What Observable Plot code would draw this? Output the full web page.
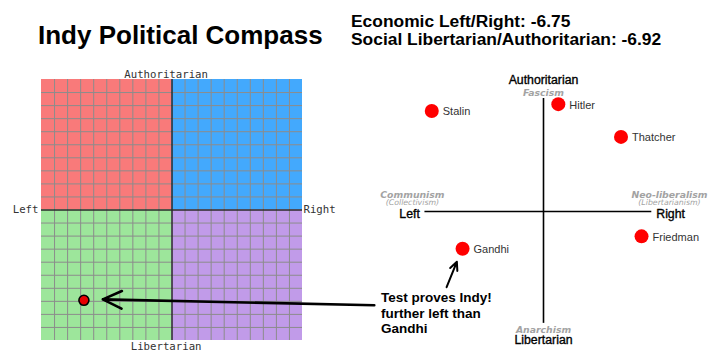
<!DOCTYPE html>
<html><head><meta charset="utf-8">
<script src="https://cdn.jsdelivr.net/npm/d3@7"></script>
<script src="https://cdn.jsdelivr.net/npm/@observablehq/plot@0.6"></script>
<style>
body{margin:0;background:#fff;}
#wrap{position:relative;width:720px;height:356px;overflow:hidden;font-family:"Liberation Sans",Arial,sans-serif;background:#fff;}
#wrap svg{position:absolute;left:0;top:0;}
.t{position:absolute;white-space:nowrap;font-weight:bold;color:#000;}
</style></head><body>
<div id="wrap">
 <div class="t" id="title" style="left:38px;top:21.5px;font-size:26px;line-height:26px"></div>
 <div class="t" id="scores" style="left:351px;top:11.9px;font-size:17.4px;line-height:18.5px"></div>
 <div class="t" id="note" style="left:381px;top:290px;font-size:13.5px;line-height:15.5px"></div>
</div>
<script>
// ---- data ----
const chartTitle = "Indy Political Compass";
const scoreLabels = ["Economic Left/Right", "Social Libertarian/Authoritarian"];
const indyScores = [-6.75, -6.92];           // [economic, social]
const quadrantNames = ["Authoritarian Left", "Authoritarian Right", "Libertarian Left", "Libertarian Right"];
const quadrantEconomic = [[-10, 0], [0, 10], [-10, 0], [0, 10]];
const quadrantSocial = [[0, 10], [0, 10], [-10, 0], [-10, 0]];
const compassAxisLabels = ["Authoritarian", "Libertarian", "Left", "Right"];
const figureNames = ["Stalin", "Hitler", "Thatcher", "Friedman", "Gandhi"];
const figureEconomic = [-9.8, 1.3, 6.8, 8.6, -7.1];
const figureSocial = [8.9, 9.5, 6.6, -2.2, -3.3];
const ideologyNames = ["Fascism", "Anarchism", "Communism", "(Collectivism)", "Neo-liberalism", "(Libertarianism)"];
const noteLines = ["Test proves Indy!", "further left than", "Gandhi"];
// annotation arrows (tail -> head), in each compass's own units
const indyPointer = {x1: 15.5, y1: -7.3, x2: -5.3, y2: -6.85};
const gandhiPointer = {x1: -8.5, y1: -6.7, x2: -7.6, y2: -4.45};

// ---- styles ----
const quadrantColor = {
  "Authoritarian Left": "#f97a7a",
  "Authoritarian Right": "#43a9fd",
  "Libertarian Left": "#9de69b",
  "Libertarian Right": "#c19be9"
};

// ---- header text ----
document.getElementById("title").textContent = chartTitle;
document.getElementById("scores").innerHTML =
  scoreLabels.map((l, i) => `${l}: ${indyScores[i].toFixed(2)}`).join("<br>");
document.getElementById("note").innerHTML = noteLines.join("<br>");

// ---- left compass ----
const quads = quadrantNames.map((name, i) => ({
  name, x1: quadrantEconomic[i][0], x2: quadrantEconomic[i][1],
  y1: quadrantSocial[i][0], y2: quadrantSocial[i][1]
}));
const gridTicks = d3.range(-9, 10).filter(v => v !== 0);
const indy = [{x: indyScores[0], y: indyScores[1]}];
const monoFont = "DejaVu Sans Mono";
const leftChart = Plot.plot({
  width: 720, height: 356,
  marginLeft: 41, marginRight: 418, marginTop: 79, marginBottom: 16,
  x: {domain: [-10, 10], axis: null},
  y: {domain: [-10, 10], axis: null},
  style: {background: "none", overflow: "visible"},
  marks: [
    Plot.rect(quads, {x1: "x1", x2: "x2", y1: "y1", y2: "y2", fill: d => quadrantColor[d.name]}),
    Plot.ruleX(gridTicks, {y1: -10, y2: 10, stroke: "#8c8c8c", strokeWidth: 1}),
    Plot.ruleY(gridTicks, {x1: -10, x2: 10, stroke: "#8c8c8c", strokeWidth: 1}),
    Plot.ruleX([0], {y1: -10, y2: 10, stroke: "#2a2a2a", strokeWidth: 1.5}),
    Plot.ruleY([0], {x1: -10, x2: 10, stroke: "#2a2a2a", strokeWidth: 1.5}),
    Plot.text([compassAxisLabels[0]], {x: -0.45, y: 10, dy: -5, text: d => d, fontFamily: monoFont, fontSize: 10.7, fill: "#333"}),
    Plot.text([compassAxisLabels[1]], {x: -0.45, y: -10, dy: 6, text: d => d, fontFamily: monoFont, fontSize: 10.7, fill: "#333"}),
    Plot.text([compassAxisLabels[2]], {x: -10, y: 0, dx: -3, textAnchor: "end", text: d => d, fontFamily: monoFont, fontSize: 10.7, fill: "#333"}),
    Plot.text([compassAxisLabels[3]], {x: 10, y: 0, dx: 1, textAnchor: "start", text: d => d, fontFamily: monoFont, fontSize: 10.7, fill: "#333"}),
    Plot.arrow([indyPointer], {x1: "x1", y1: "y1", x2: "x2", y2: "y2", stroke: "#000", strokeWidth: 2.6, headLength: 12, headAngle: 50}),
    Plot.dot(indy, {x: "x", y: "y", r: 5, fill: "#e60000", stroke: "#000", strokeWidth: 1.6})
  ]
});

// ---- right (reference) compass ----
const figs = figureNames.map((name, i) => ({name, x: figureEconomic[i], y: figureSocial[i]}));
const sans = "Liberation Sans";
const verd = "DejaVu Sans";
const rightChart = Plot.plot({
  width: 720, height: 356,
  marginLeft: 429, marginRight: 63, marginTop: 98, marginBottom: 32,
  x: {domain: [-10, 10], axis: null},
  y: {domain: [-10, 10], axis: null},
  style: {background: "none", overflow: "visible"},
  marks: [
    Plot.ruleY([0], {x1: -10.4, x2: 9.5, stroke: "#000", strokeWidth: 1.6}),
    Plot.ruleX([0], {y1: -9.9, y2: 10, stroke: "#000", strokeWidth: 1.6}),
    Plot.dot(figs, {x: "x", y: "y", r: 7, fill: "#ff0000"}),
    Plot.text(figs, {x: "x", y: "y", text: "name", textAnchor: "start", dx: 11, dy: 1, fontFamily: sans, fontSize: 11, fill: "#333"}),
    // axis words
    Plot.text([compassAxisLabels[0]], {x: 0, y: 11.6, text: d => d, fontFamily: sans, fontSize: 12.3, fill: "#000", stroke: "#000", strokeWidth: 0.35}),
    Plot.text([compassAxisLabels[1]], {x: 0, y: -11.4, text: d => d, fontFamily: sans, fontSize: 12.3, fill: "#000", stroke: "#000", strokeWidth: 0.35}),
    Plot.text([compassAxisLabels[2]], {x: -11.75, y: 0, dy: 2.5, text: d => d, fontFamily: sans, fontSize: 12.3, fill: "#000", stroke: "#000", strokeWidth: 0.35}),
    Plot.text([compassAxisLabels[3]], {x: 11.15, y: 0, dy: 2.5, text: d => d, fontFamily: sans, fontSize: 12.3, fill: "#000", stroke: "#000", strokeWidth: 0.35}),
    // ideology words
    Plot.text([ideologyNames[0]], {x: 0, y: 10.5, text: d => d, fontFamily: verd, fontSize: 9.3, fontWeight: "bold", fontStyle: "italic", fill: "#a3a3a3"}),
    Plot.text([ideologyNames[1]], {x: 0, y: -10.45, text: d => d, fontFamily: verd, fontSize: 9.3, fontWeight: "bold", fontStyle: "italic", fill: "#a3a3a3"}),
    Plot.text([ideologyNames[2]], {x: -11.5, y: 1.5, text: d => d, fontFamily: verd, fontSize: 9.3, fontWeight: "bold", fontStyle: "italic", fill: "#a3a3a3"}),
    Plot.text([ideologyNames[3]], {x: -11.5, y: 0.78, text: d => d, fontFamily: verd, fontSize: 7.8, fontStyle: "italic", fill: "#a3a3a3"}),
    Plot.text([ideologyNames[4]], {x: 11.05, y: 1.5, text: d => d, fontFamily: verd, fontSize: 9.3, fontWeight: "bold", fontStyle: "italic", fill: "#a3a3a3"}),
    Plot.text([ideologyNames[5]], {x: 11.05, y: 0.78, text: d => d, fontFamily: verd, fontSize: 7.8, fontStyle: "italic", fill: "#a3a3a3"}),
    Plot.arrow([gandhiPointer], {x1: "x1", y1: "y1", x2: "x2", y2: "y2", stroke: "#000", strokeWidth: 2, headLength: 9, headAngle: 50})
  ]
});

const wrap = document.getElementById("wrap");
wrap.appendChild(leftChart);
wrap.appendChild(rightChart);
</script>
</body></html>
